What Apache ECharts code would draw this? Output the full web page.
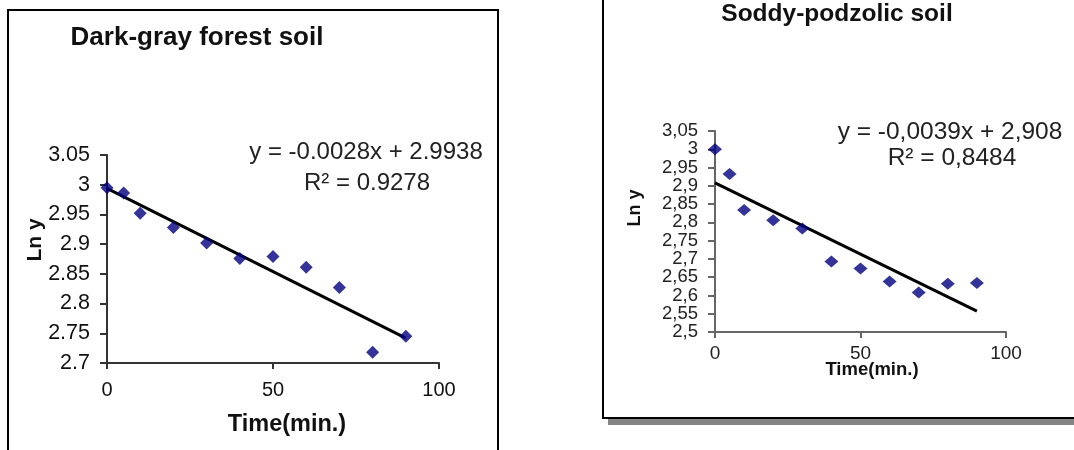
<!DOCTYPE html>
<html>
<head>
<meta charset="utf-8">
<script src="https://cdn.jsdelivr.net/npm/echarts@6/dist/echarts.min.js"></script>
<style>
html,body{margin:0;padding:0;background:#fff;}
#chart{width:1074px;height:450px;}
</style>
</head>
<body>
<div id="chart"></div>
<script>
// ---- Data ----
var timeMin = [0, 5, 10, 20, 30, 40, 50, 60, 70, 80, 90];
var darkGrayLnY = [2.995, 2.986, 2.952, 2.928, 2.902, 2.876, 2.879, 2.861, 2.827, 2.718, 2.745];
var soddyLnY = [3.0, 2.932, 2.834, 2.806, 2.783, 2.693, 2.674, 2.638, 2.608, 2.632, 2.634];
var trendX = [0, 90];
var darkGrayTrend = [2.9938, 2.7418];
var soddyTrend = [2.908, 2.557];
var xTickLabels = ['0', '50', '100'];
var leftYTickLabels = ['2.7', '2.75', '2.8', '2.85', '2.9', '2.95', '3', '3.05'];
var rightYTickLabels = ['2,5', '2,55', '2,6', '2,65', '2,7', '2,75', '2,8', '2,85', '2,9', '2,95', '3', '3,05'];
var titles = ['Dark-gray forest soil', 'Soddy-podzolic soil'];
var equations = ['y = -0.0028x + 2.9938', 'y = -0,0039x + 2,908'];
var rSquared = ['R² = 0.9278', 'R² = 0,8484'];
var xName = 'Time(min.)';
var yName = 'Ln y';

function pairs(xs, ys) { return xs.map(function (x, i) { return [x, ys[i]]; }); }

var FONT = "'Liberation Sans', Arial, sans-serif";
var chart = echarts.init(document.getElementById('chart'), null, {renderer: 'canvas'});

function txt(text, x, y, size, weight, color, rot) {
  return {
    type: 'text', x: x, y: y, rotation: rot || 0, z: 10,
    style: {text: text, fontSize: size, fontWeight: weight, fontFamily: FONT, fill: color,
      align: 'center', verticalAlign: 'middle'}
  };
}

// right y axis: tick labels are split over two overlaid axes (even / odd index)
// so that the tightly packed labels are all kept
function rightYAxis(parity, showLine) {
  return {gridIndex: 1, type: 'value', position: 'left', offset: 0,
    min: 2.5, max: 3.05, interval: 0.05,
    axisLine: {show: showLine, onZero: false, lineStyle: {color: '#666', width: 2}},
    axisTick: {show: showLine, inside: false, length: 7, lineStyle: {color: '#666', width: 2}},
    axisLabel: {margin: 17, fontSize: 18.5, fontFamily: FONT, color: '#222',
      showMinLabel: true, showMaxLabel: true,
      formatter: function (v, i) { return i % 2 === parity ? rightYTickLabels[i] : ''; }},
    splitLine: {show: false}};
}

var option = {
  backgroundColor: '#fff',
  animation: false,
  grid: [
    {left: 107, top: 155, width: 332, height: 208},
    {left: 715, top: 131, width: 291, height: 201}
  ],
  xAxis: [
    {gridIndex: 0, type: 'value', min: 0, max: 100, interval: 50,
      axisLine: {show: true, onZero: false, lineStyle: {color: '#333', width: 2}},
      axisTick: {show: true, inside: false, length: 6, lineStyle: {color: '#333', width: 2}},
      axisLabel: {margin: 17, fontSize: 20, fontFamily: FONT, color: '#111',
        showMinLabel: true, showMaxLabel: true,
        formatter: function (v, i) { return xTickLabels[i]; }},
      splitLine: {show: false}},
    {gridIndex: 1, type: 'value', min: 0, max: 100, interval: 50,
      axisLine: {show: true, onZero: false, lineStyle: {color: '#666', width: 2}},
      axisTick: {show: true, inside: false, length: 6, lineStyle: {color: '#666', width: 2}},
      axisLabel: {margin: 12, fontSize: 19, fontFamily: FONT, color: '#222',
        showMinLabel: true, showMaxLabel: true,
        formatter: function (v, i) { return xTickLabels[i]; }},
      splitLine: {show: false}}
  ],
  yAxis: [
    {gridIndex: 0, type: 'value', min: 2.7, max: 3.05, interval: 0.05,
      axisLine: {show: true, onZero: false, lineStyle: {color: '#333', width: 2}},
      axisTick: {show: true, inside: false, length: 7, lineStyle: {color: '#333', width: 2}},
      axisLabel: {margin: 17, fontSize: 21.5, fontFamily: FONT, color: '#111',
        showMinLabel: true, showMaxLabel: true,
        formatter: function (v, i) { return leftYTickLabels[i]; }},
      splitLine: {show: false}},
    rightYAxis(0, true),
    rightYAxis(1, false)
  ],
  series: [
    {type: 'line', xAxisIndex: 0, yAxisIndex: 0, data: pairs(trendX, darkGrayTrend),
      symbol: 'none', lineStyle: {color: '#000', width: 3}, z: 2},
    {type: 'scatter', xAxisIndex: 0, yAxisIndex: 0, data: pairs(timeMin, darkGrayLnY),
      symbol: 'diamond', symbolSize: [13, 13], itemStyle: {color: '#000080'}, z: 3},
    {type: 'line', xAxisIndex: 1, yAxisIndex: 1, data: pairs(trendX, soddyTrend),
      symbol: 'none', lineStyle: {color: '#000', width: 3}, z: 2},
    {type: 'scatter', xAxisIndex: 1, yAxisIndex: 1, data: pairs(timeMin, soddyLnY),
      symbol: 'diamond', symbolSize: [14, 12], itemStyle: {color: '#000080'}, z: 3}
  ],
  graphic: [
    // frames
    {type: 'rect', shape: {x: 8, y: 10, width: 490, height: 470}, style: {fill: 'none', stroke: '#000', lineWidth: 2}, z: 1},
    {type: 'rect', shape: {x: 608, y: 419, width: 470, height: 6}, style: {fill: '#858585'}, z: 1},
    {type: 'rect', shape: {x: 603, y: -10, width: 500, height: 428}, style: {fill: 'none', stroke: '#000', lineWidth: 2}, z: 1},
    // titles
    txt(titles[0], 197, 38, 26, 'bold', '#111'),
    txt(titles[1], 837, 14, 24.5, 'bold', '#111'),
    // equations
    txt(equations[0], 366, 152, 24, 'normal', '#222'),
    txt(rSquared[0], 367, 183, 24, 'normal', '#222'),
    txt(equations[1], 950, 132, 24.5, 'normal', '#222'),
    txt(rSquared[1], 952, 158, 24.5, 'normal', '#222'),
    // axis names
    txt(xName, 287, 425, 23.5, 'bold', '#111'),
    txt(yName, 35, 240, 21, 'bold', '#111', Math.PI / 2),
    txt(xName, 872, 370, 18.5, 'bold', '#111'),
    txt(yName, 635, 208, 18, 'bold', '#111', Math.PI / 2)
  ]
};
chart.setOption(option);
</script>
</body>
</html>
